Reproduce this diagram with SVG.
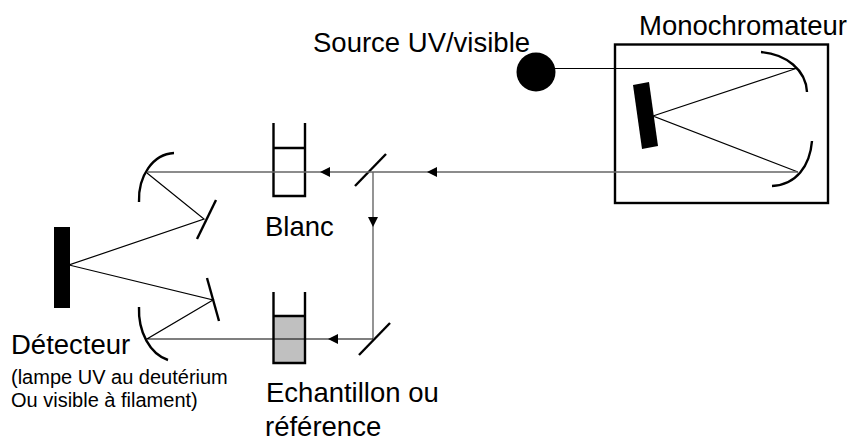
<svg xmlns="http://www.w3.org/2000/svg" width="849" height="439" viewBox="0 0 849 439">
<style>
text{font-family:"Liberation Sans",Arial,sans-serif;fill:#000}
.l{font-size:27.500px}
.s{font-size:20px}
.b{fill:none;stroke:#000;stroke-width:1.200}
.g{fill:none;stroke:#666;stroke-width:1.400}
.t{fill:none;stroke:#000;stroke-width:2.400}
.a{fill:#000;stroke:none}
</style>
<rect width="849" height="439" fill="#fff"/>
<g id="source"><circle cx="536" cy="72" r="19.500" fill="#000"/><text class="l" x="313" y="52">Source UV/visible</text></g>
<g id="monochromateur">
<rect class="t" x="615" y="44.500" width="213" height="158.500"/>
<path class="t" d="M761 52C786 54 806 70 807 92"/>
<path class="t" d="M812 141C810 166 796 185 772 186"/>
<polygon class="a" points="633,85 649,82 658,146 642,149"/>
<text class="l" x="639" y="35">Monochromateur</text>
</g>
<g id="separateur"><path class="t" d="M355 186L386 154"/></g>
<g id="miroir-bas"><path class="t" d="M359 355L390 323"/></g>
<g id="blanc">
<path class="t" d="M273.500 123V196H305V123M273.500 148H305"/>
<text class="l" x="265" y="236">Blanc</text>
</g>
<g id="echantillon">
<rect x="273.500" y="316" width="31.500" height="47" fill="#c0c0c0"/>
<path class="t" d="M273.500 292V363H305V292M273.500 316H305"/>
<text class="l" x="266" y="402">Echantillon ou</text>
<text class="l" x="265" y="436">référence</text>
</g>
<g id="miroirs-detecteur">
<path class="t" d="M174 153C153 154 138 176 139 202"/>
<path class="t" d="M139 307C138 332 150 354 168 360"/>
<path class="t" d="M216 200L197 239"/>
<path class="t" d="M207 278L219 321"/>
</g>
<g id="detecteur">
<rect x="54" y="227" width="16" height="81" fill="#000"/>
<text class="l" x="11" y="354">Détecteur</text>
<text class="s" x="11" y="384">(lampe UV au deutérium</text>
<text class="s" x="11" y="407">Ou visible à filament)</text>
</g>
<g id="connectors">
<path class="b" d="M555 68.500H796L653 116L798 172"/>
<path class="g" d="M798 172H147"/>
<path class="g" d="M373 172V339"/>
<path class="b" d="M147 173L204 219L69 265L213 300L147 339H373"/>
<polygon class="a" points="320,172 330,167 330,177"/>
<polygon class="a" points="427,172 437,167 437,177"/>
<polygon class="a" points="373,227 368,217 378,217"/>
<polygon class="a" points="328,339 338,334 338,344"/>
</g>
</svg>
